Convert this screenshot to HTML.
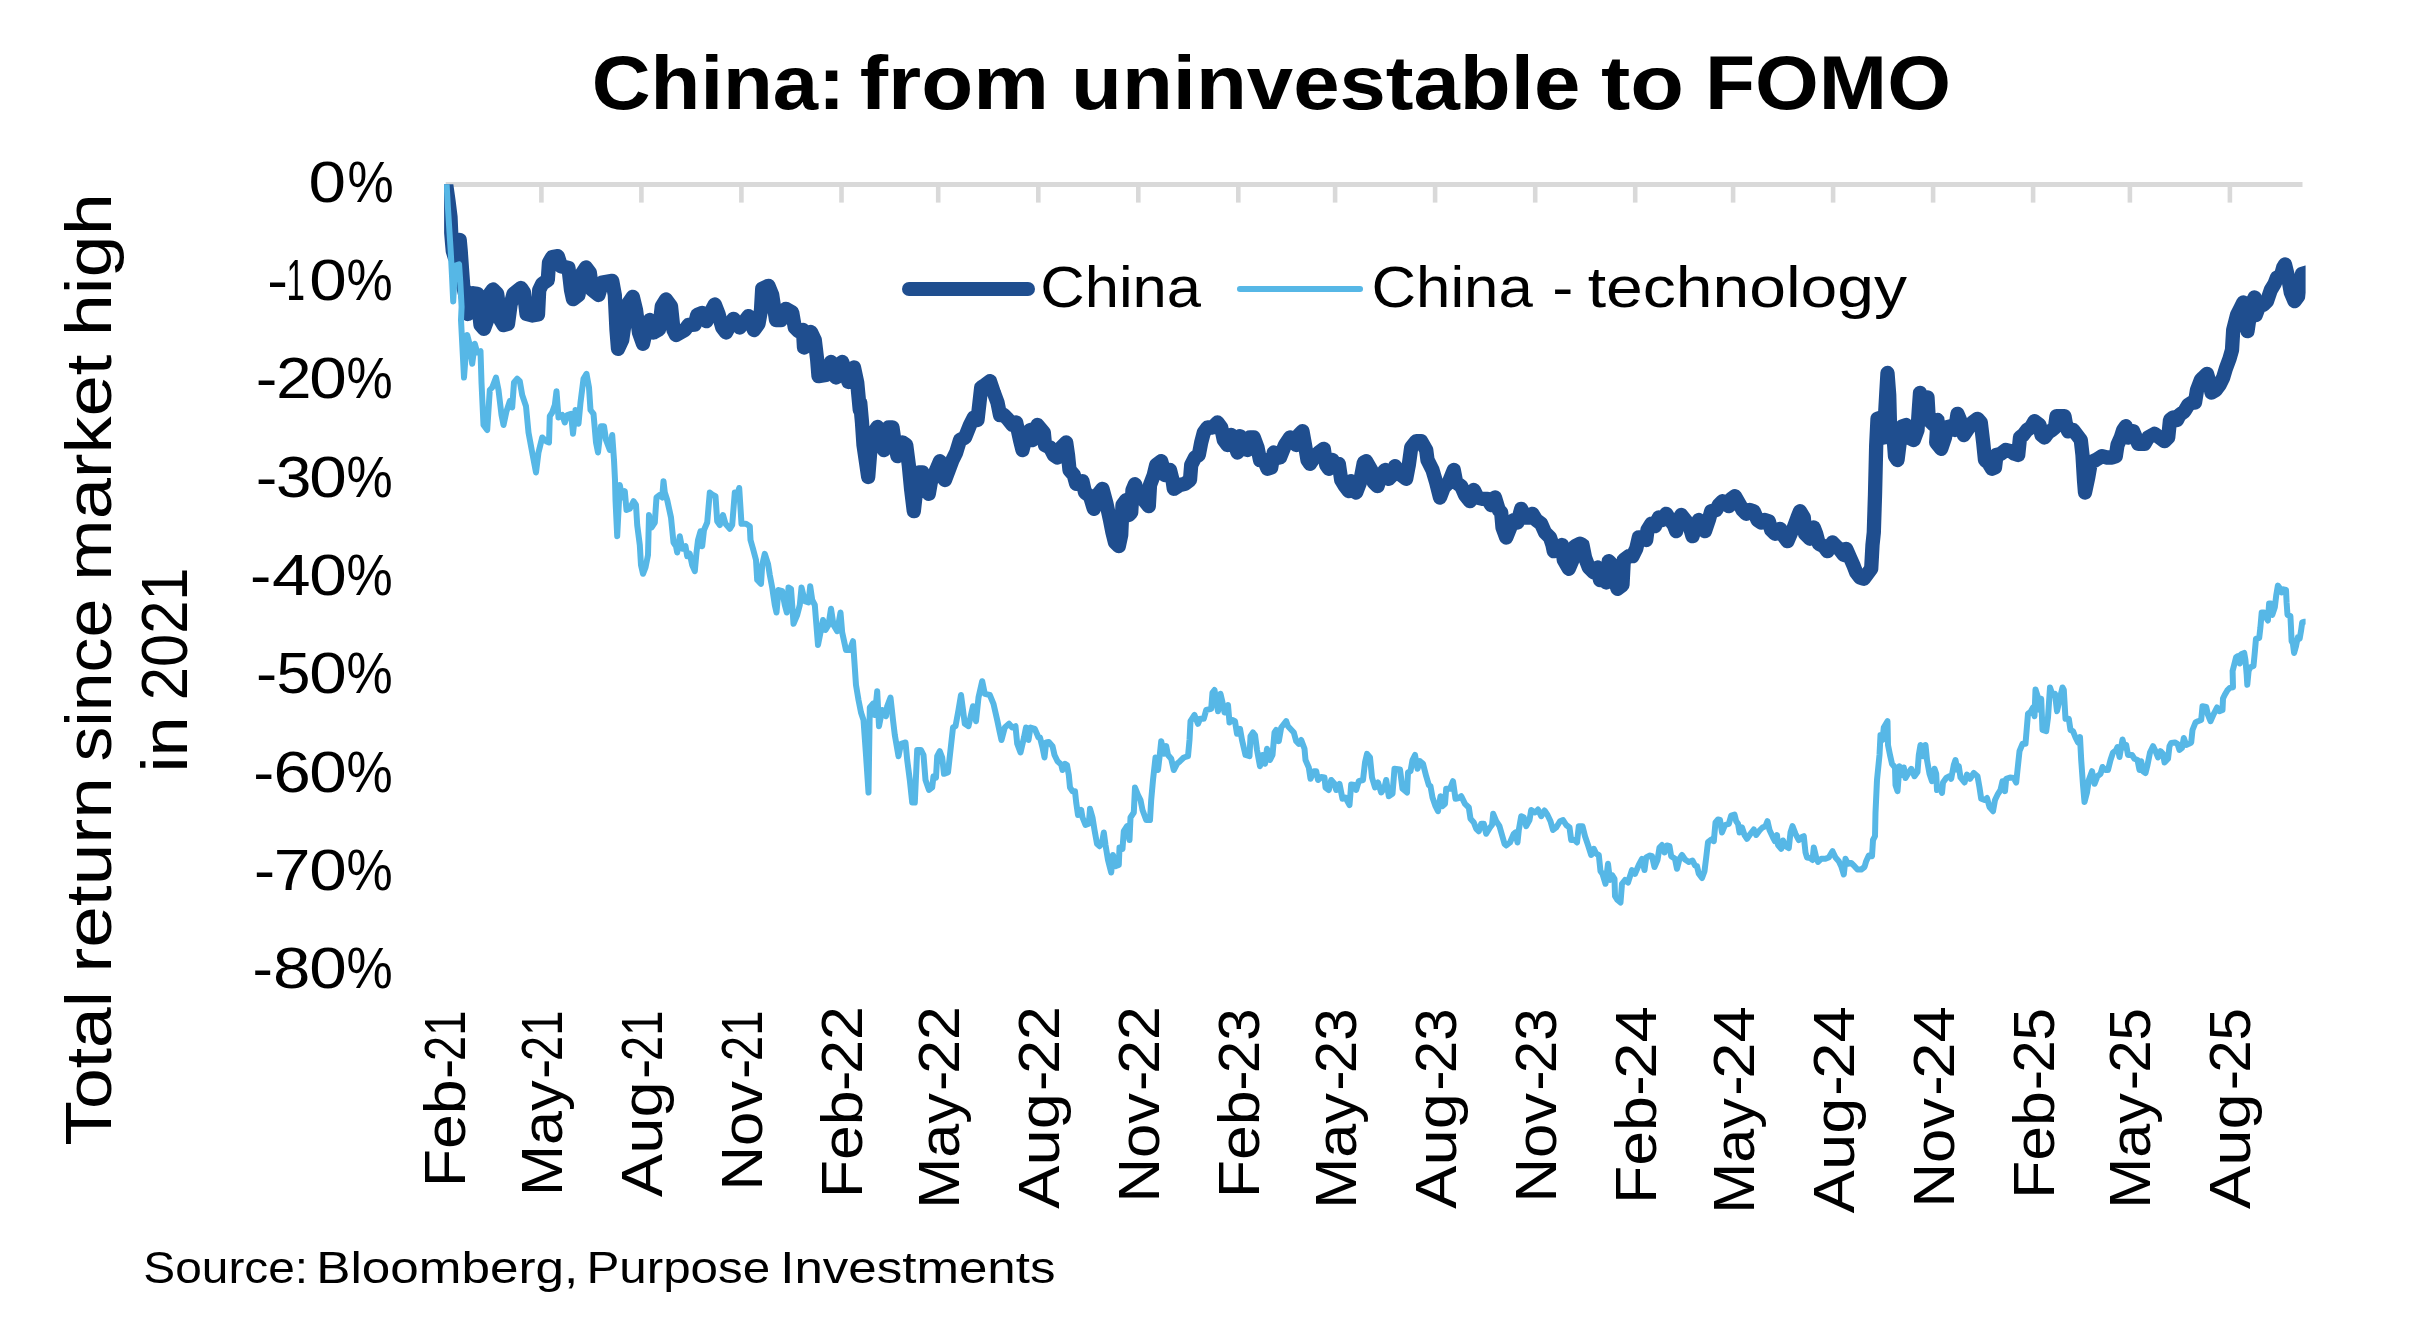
<!DOCTYPE html><html><head><meta charset="utf-8"><title>China: from uninvestable to FOMO</title>
<style>html,body{margin:0;padding:0;background:#fff}body{width:2436px;height:1318px;overflow:hidden}svg{display:block;will-change:transform}text{font-family:"Liberation Sans", sans-serif;fill:#000}</style></head><body>
<svg width="2436" height="1318" viewBox="0 0 2436 1318">
<rect width="2436" height="1318" fill="#fff"/>
<text transform="translate(591.74 108.80) scale(1.0655 1)" font-size="76.5" font-weight="bold">China:</text>
<text transform="translate(859.76 108.80) scale(1.1135 1)" font-size="76.5" font-weight="bold">from</text>
<text transform="translate(1071.04 108.80) scale(1.0889 1)" font-size="76.5" font-weight="bold">uninvestable</text>
<text transform="translate(1600.90 108.80) scale(1.1497 1)" font-size="76.5" font-weight="bold">to</text>
<text transform="translate(1704.96 108.80) scale(1.0720 1)" font-size="76.5" font-weight="bold">FOMO</text>
<g stroke="#D9D9D9" fill="none">
<line x1="445.7" y1="184.4" x2="2302.5" y2="184.4" stroke-width="5"/>
<line x1="541.4" y1="184.4" x2="541.4" y2="202.6" stroke-width="4.6"/>
<line x1="641.4" y1="184.4" x2="641.4" y2="202.6" stroke-width="4.6"/>
<line x1="741.4" y1="184.4" x2="741.4" y2="202.6" stroke-width="4.6"/>
<line x1="841.5" y1="184.4" x2="841.5" y2="202.6" stroke-width="4.6"/>
<line x1="938.2" y1="184.4" x2="938.2" y2="202.6" stroke-width="4.6"/>
<line x1="1038.3" y1="184.4" x2="1038.3" y2="202.6" stroke-width="4.6"/>
<line x1="1138.3" y1="184.4" x2="1138.3" y2="202.6" stroke-width="4.6"/>
<line x1="1238.3" y1="184.4" x2="1238.3" y2="202.6" stroke-width="4.6"/>
<line x1="1335.1" y1="184.4" x2="1335.1" y2="202.6" stroke-width="4.6"/>
<line x1="1435.1" y1="184.4" x2="1435.1" y2="202.6" stroke-width="4.6"/>
<line x1="1535.2" y1="184.4" x2="1535.2" y2="202.6" stroke-width="4.6"/>
<line x1="1635.2" y1="184.4" x2="1635.2" y2="202.6" stroke-width="4.6"/>
<line x1="1733.1" y1="184.4" x2="1733.1" y2="202.6" stroke-width="4.6"/>
<line x1="1833.1" y1="184.4" x2="1833.1" y2="202.6" stroke-width="4.6"/>
<line x1="1933.1" y1="184.4" x2="1933.1" y2="202.6" stroke-width="4.6"/>
<line x1="2033.1" y1="184.4" x2="2033.1" y2="202.6" stroke-width="4.6"/>
<line x1="2129.9" y1="184.4" x2="2129.9" y2="202.6" stroke-width="4.6"/>
<line x1="2229.9" y1="184.4" x2="2229.9" y2="202.6" stroke-width="4.6"/>
</g>
<text transform="translate(308.60 201.60) scale(1.1831 1)" font-size="57.0">0</text>
<text transform="translate(347.48 201.60) scale(0.9114 1)" font-size="57.0">%</text>
<text transform="translate(267.21 299.95) scale(1.0884 1)" font-size="57.0">-</text>
<text transform="translate(286.52 299.95) scale(0.5801 1)" font-size="57.0">1</text>
<text transform="translate(309.30 299.95) scale(1.1831 1)" font-size="57.0">0</text>
<text transform="translate(346.38 299.95) scale(0.9114 1)" font-size="57.0">%</text>
<text transform="translate(255.78 398.30) scale(1.1386 1)" font-size="57.0">-</text>
<text transform="translate(276.14 398.30) scale(1.1105 1)" font-size="57.0">2</text>
<text transform="translate(309.30 398.30) scale(1.1831 1)" font-size="57.0">0</text>
<text transform="translate(346.38 398.30) scale(0.9114 1)" font-size="57.0">%</text>
<text transform="translate(255.78 496.65) scale(1.1386 1)" font-size="57.0">-</text>
<text transform="translate(276.02 496.65) scale(1.1154 1)" font-size="57.0">3</text>
<text transform="translate(309.30 496.65) scale(1.1831 1)" font-size="57.0">0</text>
<text transform="translate(346.38 496.65) scale(0.9114 1)" font-size="57.0">%</text>
<text transform="translate(250.02 595.00) scale(1.1242 1)" font-size="57.0">-</text>
<text transform="translate(271.94 595.00) scale(1.2194 1)" font-size="57.0">4</text>
<text transform="translate(309.30 595.00) scale(1.1831 1)" font-size="57.0">0</text>
<text transform="translate(346.38 595.00) scale(0.9114 1)" font-size="57.0">%</text>
<text transform="translate(255.93 693.35) scale(1.1171 1)" font-size="57.0">-</text>
<text transform="translate(276.57 693.35) scale(1.0674 1)" font-size="57.0">5</text>
<text transform="translate(309.30 693.35) scale(1.1831 1)" font-size="57.0">0</text>
<text transform="translate(346.38 693.35) scale(0.9114 1)" font-size="57.0">%</text>
<text transform="translate(253.17 791.70) scale(1.1028 1)" font-size="57.0">-</text>
<text transform="translate(273.55 791.70) scale(1.1759 1)" font-size="57.0">6</text>
<text transform="translate(309.30 791.70) scale(1.1831 1)" font-size="57.0">0</text>
<text transform="translate(346.38 791.70) scale(0.9114 1)" font-size="57.0">%</text>
<text transform="translate(253.95 890.05) scale(1.1099 1)" font-size="57.0">-</text>
<text transform="translate(273.80 890.05) scale(1.1567 1)" font-size="57.0">7</text>
<text transform="translate(309.30 890.05) scale(1.1831 1)" font-size="57.0">0</text>
<text transform="translate(346.38 890.05) scale(0.9114 1)" font-size="57.0">%</text>
<text transform="translate(252.44 988.40) scale(1.0741 1)" font-size="57.0">-</text>
<text transform="translate(272.94 988.40) scale(1.1795 1)" font-size="57.0">8</text>
<text transform="translate(309.30 988.40) scale(1.1831 1)" font-size="57.0">0</text>
<text transform="translate(346.38 988.40) scale(0.9114 1)" font-size="57.0">%</text>
<text transform="translate(465.10 1187.16) rotate(-90) scale(1.0976 1)" font-size="57.0">Feb</text>
<text transform="translate(465.10 1060.96) rotate(-90) scale(0.7919 1)" font-size="57.0">21</text>
<text transform="translate(465.10 1079.06) rotate(-90) scale(1.0741 1)" font-size="57.0">-</text>
<text transform="translate(561.87 1196.05) rotate(-90) scale(1.0740 1)" font-size="57.0">May</text>
<text transform="translate(561.87 1060.96) rotate(-90) scale(0.7919 1)" font-size="57.0">21</text>
<text transform="translate(561.87 1079.06) rotate(-90) scale(1.0741 1)" font-size="57.0">-</text>
<text transform="translate(661.90 1197.16) rotate(-90) scale(1.1433 1)" font-size="57.0">Aug</text>
<text transform="translate(661.90 1060.96) rotate(-90) scale(0.7919 1)" font-size="57.0">21</text>
<text transform="translate(661.90 1079.06) rotate(-90) scale(1.0741 1)" font-size="57.0">-</text>
<text transform="translate(761.93 1190.58) rotate(-90) scale(1.0811 1)" font-size="57.0">Nov</text>
<text transform="translate(761.93 1060.96) rotate(-90) scale(0.7919 1)" font-size="57.0">21</text>
<text transform="translate(761.93 1079.06) rotate(-90) scale(1.0741 1)" font-size="57.0">-</text>
<text transform="translate(861.96 1198.16) rotate(-90) scale(1.0976 1)" font-size="57.0">Feb</text>
<text transform="translate(861.96 1073.73) rotate(-90) scale(1.0631 1)" font-size="57.0">22</text>
<text transform="translate(861.96 1091.06) rotate(-90) scale(1.0741 1)" font-size="57.0">-</text>
<text transform="translate(958.73 1208.80) rotate(-90) scale(1.0740 1)" font-size="57.0">May</text>
<text transform="translate(958.73 1073.73) rotate(-90) scale(1.0631 1)" font-size="57.0">22</text>
<text transform="translate(958.73 1091.06) rotate(-90) scale(1.0741 1)" font-size="57.0">-</text>
<text transform="translate(1058.77 1208.91) rotate(-90) scale(1.1433 1)" font-size="57.0">Aug</text>
<text transform="translate(1058.77 1073.73) rotate(-90) scale(1.0631 1)" font-size="57.0">22</text>
<text transform="translate(1058.77 1091.06) rotate(-90) scale(1.0741 1)" font-size="57.0">-</text>
<text transform="translate(1158.80 1202.58) rotate(-90) scale(1.0811 1)" font-size="57.0">Nov</text>
<text transform="translate(1158.80 1073.73) rotate(-90) scale(1.0631 1)" font-size="57.0">22</text>
<text transform="translate(1158.80 1091.06) rotate(-90) scale(1.0741 1)" font-size="57.0">-</text>
<text transform="translate(1258.83 1198.16) rotate(-90) scale(1.0976 1)" font-size="57.0">Feb</text>
<text transform="translate(1258.83 1073.21) rotate(-90) scale(1.0225 1)" font-size="57.0">23</text>
<text transform="translate(1258.83 1090.66) rotate(-90) scale(1.0741 1)" font-size="57.0">-</text>
<text transform="translate(1355.60 1208.80) rotate(-90) scale(1.0740 1)" font-size="57.0">May</text>
<text transform="translate(1355.60 1073.21) rotate(-90) scale(1.0225 1)" font-size="57.0">23</text>
<text transform="translate(1355.60 1090.66) rotate(-90) scale(1.0741 1)" font-size="57.0">-</text>
<text transform="translate(1455.63 1208.91) rotate(-90) scale(1.1433 1)" font-size="57.0">Aug</text>
<text transform="translate(1455.63 1073.21) rotate(-90) scale(1.0225 1)" font-size="57.0">23</text>
<text transform="translate(1455.63 1090.66) rotate(-90) scale(1.0741 1)" font-size="57.0">-</text>
<text transform="translate(1555.66 1202.58) rotate(-90) scale(1.0811 1)" font-size="57.0">Nov</text>
<text transform="translate(1555.66 1073.21) rotate(-90) scale(1.0225 1)" font-size="57.0">23</text>
<text transform="translate(1555.66 1090.66) rotate(-90) scale(1.0741 1)" font-size="57.0">-</text>
<text transform="translate(1655.69 1203.91) rotate(-90) scale(1.0976 1)" font-size="57.0">Feb</text>
<text transform="translate(1655.69 1078.77) rotate(-90) scale(1.1469 1)" font-size="57.0">24</text>
<text transform="translate(1655.69 1095.86) rotate(-90) scale(1.0741 1)" font-size="57.0">-</text>
<text transform="translate(1753.55 1213.80) rotate(-90) scale(1.0740 1)" font-size="57.0">May</text>
<text transform="translate(1753.55 1078.77) rotate(-90) scale(1.1469 1)" font-size="57.0">24</text>
<text transform="translate(1753.55 1095.86) rotate(-90) scale(1.0741 1)" font-size="57.0">-</text>
<text transform="translate(1853.58 1213.41) rotate(-90) scale(1.1433 1)" font-size="57.0">Aug</text>
<text transform="translate(1853.58 1078.77) rotate(-90) scale(1.1469 1)" font-size="57.0">24</text>
<text transform="translate(1853.58 1095.86) rotate(-90) scale(1.0741 1)" font-size="57.0">-</text>
<text transform="translate(1953.61 1207.58) rotate(-90) scale(1.0811 1)" font-size="57.0">Nov</text>
<text transform="translate(1953.61 1078.77) rotate(-90) scale(1.1469 1)" font-size="57.0">24</text>
<text transform="translate(1953.61 1095.86) rotate(-90) scale(1.0741 1)" font-size="57.0">-</text>
<text transform="translate(2053.65 1198.91) rotate(-90) scale(1.0976 1)" font-size="57.0">Feb</text>
<text transform="translate(2053.65 1072.71) rotate(-90) scale(1.0200 1)" font-size="57.0">25</text>
<text transform="translate(2053.65 1090.16) rotate(-90) scale(1.0741 1)" font-size="57.0">-</text>
<text transform="translate(2150.41 1208.80) rotate(-90) scale(1.0740 1)" font-size="57.0">May</text>
<text transform="translate(2150.41 1072.71) rotate(-90) scale(1.0200 1)" font-size="57.0">25</text>
<text transform="translate(2150.41 1090.16) rotate(-90) scale(1.0741 1)" font-size="57.0">-</text>
<text transform="translate(2250.45 1209.16) rotate(-90) scale(1.1433 1)" font-size="57.0">Aug</text>
<text transform="translate(2250.45 1072.71) rotate(-90) scale(1.0200 1)" font-size="57.0">25</text>
<text transform="translate(2250.45 1090.16) rotate(-90) scale(1.0741 1)" font-size="57.0">-</text>
<text transform="translate(111.20 1145.65) rotate(-90) scale(1.1381 1)" font-size="64.3">Total</text>
<text transform="translate(111.20 972.66) rotate(-90) scale(1.1634 1)" font-size="64.3">return</text>
<text transform="translate(111.20 761.52) rotate(-90) scale(1.0847 1)" font-size="64.3">since</text>
<text transform="translate(111.20 581.10) rotate(-90) scale(1.1528 1)" font-size="64.3">market</text>
<text transform="translate(111.20 336.30) rotate(-90) scale(1.1769 1)" font-size="64.3">high</text>
<text transform="translate(187.30 772.47) rotate(-90) scale(1.1217 1)" font-size="64.3">in</text>
<text transform="translate(187.30 700.18) rotate(-90) scale(0.9280 1)" font-size="64.3">2021</text>
<text transform="translate(143.35 1282.70) scale(1.0577 1)" font-size="45.2">Source:</text>
<text transform="translate(316.27 1282.70) scale(1.1342 1)" font-size="45.2">Bloomberg,</text>
<text transform="translate(586.43 1282.70) scale(1.0916 1)" font-size="45.2">Purpose</text>
<text transform="translate(780.28 1282.70) scale(1.1293 1)" font-size="45.2">Investments</text>
<defs><clipPath id="pc"><rect x="444.1" y="184.2" width="1861.5" height="820"/></clipPath></defs>
<g clip-path="url(#pc)" fill="none" stroke-linejoin="round" stroke-linecap="round">
<path d="M446.1 184.1 L448.5 201.0 L450.5 217.2 L451.2 233.4 L452.8 250.9 L454.7 257.1 L458.2 244.0 L459.7 239.9 L460.7 250.9 L462.0 269.6 L463.2 285.8 L466.6 300.8 L467.8 314.0 L470.3 300.8 L473.4 293.3 L477.2 293.8 L480.5 325.0 L484.0 328.8 L487.2 320.0 L489.0 295.0 L493.0 289.5 L497.2 293.8 L500.5 320.0 L503.5 325.0 L508.0 323.8 L510.5 305.0 L513.5 293.8 L521.0 288.0 L524.0 292.5 L526.5 313.8 L532.2 315.5 L538.0 314.5 L539.2 290.0 L542.2 283.8 L547.8 280.0 L549.0 262.5 L552.2 257.0 L557.8 256.2 L561.0 266.2 L568.5 268.0 L571.0 290.0 L573.0 299.2 L578.5 295.0 L581.0 275.0 L586.0 267.5 L589.8 272.5 L592.2 290.0 L598.5 295.0 L602.2 282.5 L612.2 280.8 L614.8 295.0 L616.5 330.0 L618.0 348.8 L622.2 340.0 L627.2 305.0 L632.8 296.8 L636.0 310.0 L639.0 332.5 L643.0 343.8 L647.2 325.0 L649.8 320.0 L653.5 332.5 L659.2 329.2 L661.8 306.2 L666.0 299.5 L671.0 306.2 L673.5 330.0 L676.0 335.0 L684.8 330.0 L688.5 325.0 L694.8 324.5 L697.2 315.0 L702.2 313.0 L706.5 321.2 L709.8 313.8 L714.8 304.5 L718.5 313.8 L722.2 327.5 L726.0 332.5 L733.5 318.8 L739.8 327.5 L748.5 316.2 L754.0 330.0 L758.5 323.8 L761.0 310.0 L762.2 288.8 L768.5 285.8 L772.2 295.0 L776.0 320.0 L781.0 320.0 L786.0 308.8 L792.2 312.5 L794.8 327.5 L798.5 331.2 L803.0 330.0 L804.0 347.5 L807.2 345.0 L811.0 332.0 L814.8 340.0 L817.2 360.0 L818.5 376.2 L826.0 375.0 L831.0 362.0 L836.0 377.5 L842.2 362.0 L848.5 382.0 L854.0 367.5 L857.2 382.5 L859.8 410.0 L860.2 402.5 L862.0 422.5 L863.5 445.0 L868.2 477.0 L871.2 440.0 L873.8 432.5 L877.5 427.0 L881.2 440.0 L883.8 450.0 L886.2 440.0 L888.8 427.5 L892.5 427.5 L895.0 445.0 L897.5 456.2 L900.0 450.0 L902.5 442.5 L906.2 445.0 L908.8 465.0 L911.2 490.0 L913.8 511.2 L916.2 490.0 L918.8 472.5 L922.5 472.5 L926.2 480.0 L928.8 493.8 L931.2 480.0 L933.8 477.5 L936.2 470.0 L940.0 461.2 L943.8 472.5 L945.0 480.0 L948.8 470.0 L952.5 460.0 L956.2 452.5 L960.0 440.0 L965.0 437.5 L970.0 425.0 L973.8 417.5 L977.5 420.0 L979.5 402.5 L981.2 387.5 L985.0 385.0 L990.0 381.2 L993.8 392.5 L997.5 402.5 L1000.0 415.0 L1003.8 415.0 L1007.5 418.8 L1012.5 425.0 L1016.2 422.5 L1020.0 440.0 L1022.5 450.0 L1026.2 435.0 L1030.0 430.0 L1032.5 440.0 L1037.5 425.0 L1043.8 432.5 L1045.0 445.0 L1050.0 447.5 L1053.8 455.0 L1057.5 457.5 L1061.2 447.5 L1066.2 442.5 L1068.0 455.0 L1069.5 470.0 L1073.8 475.0 L1076.2 483.8 L1082.5 481.2 L1085.0 492.5 L1090.0 496.2 L1093.8 508.8 L1097.5 495.0 L1102.5 488.8 L1106.2 502.5 L1110.0 520.0 L1112.5 532.5 L1115.0 542.5 L1118.8 546.2 L1121.2 535.0 L1122.5 505.0 L1126.2 500.0 L1128.8 515.0 L1131.2 512.5 L1132.5 490.0 L1135.0 484.2 L1138.8 495.0 L1143.8 500.0 L1148.8 506.2 L1150.0 485.0 L1153.8 475.0 L1156.2 465.0 L1161.2 461.2 L1165.0 475.0 L1170.0 470.0 L1172.5 480.0 L1173.8 488.8 L1180.0 485.0 L1185.0 483.8 L1190.0 480.0 L1191.2 465.0 L1195.0 457.5 L1198.8 455.0 L1201.2 442.5 L1203.8 432.5 L1207.5 427.5 L1212.5 427.5 L1217.5 422.5 L1221.2 427.5 L1223.8 440.0 L1227.5 445.0 L1231.2 435.0 L1235.0 445.0 L1237.5 452.5 L1240.0 436.2 L1243.8 445.0 L1247.5 450.0 L1250.0 437.5 L1253.8 437.5 L1257.5 447.5 L1260.0 460.0 L1263.8 460.0 L1267.5 468.8 L1271.2 467.5 L1273.8 452.5 L1280.0 457.5 L1285.0 445.0 L1290.0 437.5 L1296.2 445.0 L1298.8 435.0 L1302.5 431.2 L1305.0 445.0 L1307.5 460.0 L1310.0 463.8 L1315.0 456.2 L1318.8 452.5 L1323.8 448.8 L1326.2 465.0 L1328.8 468.8 L1332.5 460.0 L1335.0 465.0 L1338.8 463.8 L1341.2 480.0 L1345.0 486.2 L1348.8 491.2 L1351.2 481.2 L1356.2 492.5 L1360.0 482.5 L1363.8 462.5 L1366.2 461.2 L1371.2 470.0 L1373.8 482.5 L1377.5 486.2 L1381.2 475.0 L1385.0 470.0 L1388.8 478.8 L1392.5 475.0 L1395.0 466.2 L1401.2 475.0 L1406.2 478.8 L1408.8 465.0 L1411.2 447.5 L1416.2 441.2 L1421.2 441.2 L1426.2 450.0 L1427.5 460.0 L1432.5 470.0 L1436.2 482.5 L1440.0 497.5 L1443.8 487.5 L1448.8 482.5 L1453.8 470.0 L1456.2 482.5 L1461.2 486.2 L1465.0 495.0 L1470.0 501.2 L1473.8 490.0 L1477.5 497.5 L1482.5 498.8 L1487.5 498.8 L1491.2 505.0 L1495.0 497.5 L1498.8 510.0 L1501.2 512.5 L1502.5 527.5 L1506.2 537.5 L1511.2 525.0 L1513.8 520.0 L1517.5 522.5 L1521.2 508.8 L1525.0 517.5 L1530.0 517.5 L1532.5 513.8 L1536.2 520.0 L1541.2 523.8 L1545.0 532.5 L1550.0 537.5 L1552.5 545.0 L1553.8 551.2 L1558.8 547.5 L1562.0 545.0 L1563.8 560.0 L1568.8 568.8 L1572.5 560.0 L1575.0 546.2 L1580.0 543.8 L1582.5 545.0 L1585.0 557.5 L1588.8 567.5 L1593.8 572.5 L1597.5 567.5 L1600.0 580.0 L1603.8 575.0 L1606.2 582.5 L1608.8 561.2 L1612.5 565.0 L1615.0 580.0 L1617.5 588.8 L1622.5 585.0 L1623.8 560.0 L1628.8 556.2 L1632.5 556.2 L1636.2 548.8 L1638.8 537.5 L1643.8 537.5 L1646.2 540.0 L1647.5 530.0 L1651.2 523.8 L1655.0 526.2 L1658.8 517.5 L1662.5 520.0 L1666.2 513.8 L1670.0 520.0 L1673.8 525.0 L1676.2 531.2 L1678.8 520.0 L1681.2 515.0 L1686.2 521.2 L1690.0 527.5 L1692.5 536.2 L1696.2 525.0 L1698.8 520.0 L1702.5 527.5 L1705.0 531.2 L1708.8 520.0 L1711.2 511.2 L1716.2 510.0 L1718.8 505.0 L1722.5 501.2 L1728.8 506.2 L1731.2 498.8 L1735.0 496.2 L1740.0 505.0 L1742.5 510.0 L1746.2 513.8 L1750.0 510.0 L1753.8 511.2 L1757.5 520.0 L1761.2 522.5 L1765.0 520.0 L1768.8 521.2 L1771.2 530.0 L1775.0 533.8 L1780.0 528.8 L1783.8 536.2 L1787.5 541.2 L1791.2 532.5 L1793.8 527.5 L1797.5 517.5 L1800.0 511.2 L1803.8 517.5 L1805.0 533.8 L1810.0 538.8 L1813.8 527.5 L1816.2 533.8 L1818.8 543.8 L1823.8 546.2 L1827.5 551.2 L1832.5 542.5 L1836.2 546.2 L1840.0 550.0 L1843.8 555.0 L1846.2 548.8 L1850.0 557.5 L1853.8 566.2 L1856.2 572.5 L1860.0 577.5 L1863.8 578.8 L1867.5 573.8 L1871.2 568.8 L1872.5 545.0 L1873.8 532.5 L1875.0 495.0 L1876.2 445.0 L1877.5 418.8 L1881.2 417.5 L1883.8 437.5 L1886.2 395.0 L1887.5 373.0 L1889.2 395.0 L1890.0 425.0 L1893.8 440.0 L1895.0 456.2 L1897.5 460.0 L1900.0 440.0 L1902.5 426.2 L1906.2 425.0 L1908.8 437.5 L1913.8 440.0 L1917.5 430.0 L1918.8 410.0 L1920.0 393.0 L1923.8 405.0 L1927.5 397.5 L1928.8 420.0 L1933.8 425.0 L1937.5 420.0 L1936.2 442.5 L1941.2 448.8 L1945.0 437.5 L1946.2 427.5 L1951.2 426.2 L1955.0 430.0 L1957.5 413.8 L1960.0 420.0 L1963.8 435.0 L1968.8 427.5 L1972.5 422.5 L1977.5 418.8 L1980.8 422.5 L1983.2 442.5 L1985.0 460.0 L1988.2 462.5 L1992.0 468.8 L1995.0 467.5 L1996.5 455.0 L2000.8 453.8 L2005.8 450.0 L2010.8 451.2 L2014.5 453.8 L2018.2 455.0 L2020.0 437.5 L2023.2 435.0 L2027.0 430.0 L2030.8 427.5 L2034.5 421.2 L2039.5 425.0 L2041.5 435.0 L2044.5 437.5 L2048.2 432.5 L2052.0 430.0 L2055.0 427.5 L2056.5 416.2 L2060.8 416.2 L2064.5 416.2 L2066.5 427.5 L2068.2 431.2 L2073.2 430.0 L2077.0 435.0 L2080.8 440.0 L2082.5 455.0 L2084.0 480.0 L2085.0 492.5 L2088.2 477.5 L2090.8 462.5 L2095.8 460.0 L2102.0 456.2 L2107.0 457.5 L2112.0 457.5 L2115.8 456.2 L2117.5 445.0 L2120.8 437.5 L2123.2 430.0 L2125.8 426.2 L2128.2 437.5 L2133.2 431.2 L2135.8 437.5 L2138.2 443.8 L2144.5 443.8 L2148.2 437.5 L2154.5 433.8 L2159.5 437.5 L2164.5 441.2 L2168.2 437.5 L2170.0 420.0 L2173.2 417.5 L2177.0 420.0 L2179.5 415.0 L2184.5 411.2 L2188.2 405.0 L2192.0 402.5 L2195.0 402.5 L2197.0 390.0 L2200.8 380.0 L2203.2 377.5 L2207.0 373.8 L2209.5 382.5 L2211.5 392.5 L2215.8 390.0 L2219.5 385.0 L2223.2 377.5 L2225.8 368.8 L2229.5 358.8 L2232.0 350.0 L2233.2 330.0 L2237.0 315.0 L2240.8 307.5 L2243.2 302.5 L2245.0 315.0 L2247.5 331.2 L2249.5 317.5 L2252.0 305.0 L2254.5 297.5 L2255.8 315.0 L2259.5 305.0 L2263.2 305.0 L2267.0 301.2 L2270.8 290.0 L2274.5 283.8 L2277.0 277.5 L2280.8 276.2 L2283.2 267.5 L2285.0 264.5 L2288.2 277.5 L2290.8 292.5 L2294.5 301.2 L2298.2 296.2 L2300.8 280.0 L2302.0 273.8 L2307.0 272.5" stroke="#1F4E8F" stroke-width="14.3"/>
<path d="M446.6 184.1 L447.9 207.2 L449.5 232.2 L450.7 250.9 L452.0 275.8 L453.2 301.4 L454.2 282.1 L455.0 265.9 L459.1 264.4 L460.3 282.1 L461.6 307.0 L461.0 320.0 L464.0 377.5 L467.2 335.0 L469.8 345.0 L472.2 363.8 L474.8 343.8 L477.2 352.5 L480.5 351.2 L481.5 382.5 L483.5 425.0 L487.2 430.0 L489.8 390.0 L492.2 387.5 L496.0 377.5 L498.5 390.0 L501.5 415.0 L503.5 425.0 L506.5 411.2 L509.8 401.2 L512.2 407.5 L514.0 382.5 L517.2 378.8 L519.8 381.2 L522.2 395.0 L526.0 406.2 L528.5 432.5 L532.2 452.5 L536.0 472.5 L538.5 452.5 L542.2 437.5 L546.0 441.2 L549.0 442.5 L549.8 416.2 L552.2 412.5 L554.8 405.0 L556.5 391.2 L558.5 417.5 L562.2 415.0 L564.8 422.5 L567.2 415.0 L571.0 413.8 L573.0 433.8 L575.5 410.0 L578.5 423.8 L580.5 402.5 L583.5 378.8 L586.5 373.8 L589.0 387.5 L590.5 410.0 L593.5 413.8 L596.0 442.5 L598.0 452.5 L601.0 426.2 L604.0 426.2 L606.0 440.0 L609.8 450.0 L612.2 435.0 L614.0 460.0 L615.0 480.0 L615.5 500.0 L617.2 536.2 L619.8 485.0 L622.2 497.5 L624.8 491.2 L626.5 510.0 L629.8 508.8 L633.5 501.2 L636.0 505.0 L637.2 525.0 L639.8 545.0 L641.0 565.0 L643.0 573.8 L645.5 567.5 L648.0 555.0 L649.0 515.0 L651.5 527.5 L654.8 522.5 L656.5 497.5 L659.8 495.0 L662.2 497.5 L663.5 481.2 L664.8 492.5 L667.2 500.0 L671.0 517.5 L673.5 542.5 L676.0 546.2 L677.2 552.5 L679.8 536.2 L682.2 548.8 L685.5 546.2 L687.2 556.2 L689.8 553.8 L692.2 565.0 L694.8 571.2 L696.5 552.5 L698.0 540.0 L700.5 531.2 L702.2 546.2 L704.0 530.0 L707.2 522.5 L709.8 492.5 L713.0 495.0 L715.5 496.2 L717.2 521.2 L719.8 525.0 L723.0 515.0 L725.5 523.8 L729.8 528.8 L732.2 525.0 L734.8 492.5 L737.2 495.0 L739.2 488.0 L741.5 523.8 L746.0 523.8 L749.8 526.2 L750.5 540.0 L753.0 548.8 L756.0 560.0 L757.2 580.0 L761.0 583.8 L762.2 565.0 L764.8 553.8 L768.0 563.8 L769.8 575.0 L772.2 587.5 L774.8 605.0 L776.5 612.5 L778.5 590.0 L782.2 591.2 L784.8 605.0 L786.8 612.5 L788.5 587.5 L791.0 588.8 L792.2 605.0 L793.5 623.8 L797.2 615.0 L799.8 605.0 L801.5 587.5 L804.8 601.2 L808.5 602.5 L810.2 586.2 L812.2 600.0 L814.8 605.0 L816.0 620.0 L818.0 645.0 L821.0 630.0 L823.0 620.0 L825.5 630.0 L828.5 625.0 L831.0 608.8 L833.5 625.0 L837.2 631.2 L840.5 612.5 L842.2 632.5 L846.0 650.0 L849.8 650.0 L853.0 641.2 L854.8 667.5 L856.0 685.0 L858.5 700.0 L861.0 712.5 L863.5 720.0 L866.0 755.0 L868.5 792.5 L869.8 707.5 L873.0 703.8 L874.8 715.0 L877.2 691.2 L879.0 726.2 L882.2 710.0 L886.0 716.2 L887.2 706.2 L890.5 697.5 L893.0 720.0 L894.8 735.0 L898.5 756.2 L901.0 743.8 L905.5 742.5 L907.2 760.0 L909.8 780.0 L912.2 802.5 L914.8 802.5 L917.2 750.0 L921.0 750.0 L923.5 755.0 L925.5 780.0 L929.0 790.0 L932.2 787.5 L933.5 776.2 L936.0 777.5 L937.2 756.2 L939.8 751.2 L942.2 757.5 L944.0 773.8 L948.0 772.5 L950.5 750.0 L953.0 727.5 L955.5 726.2 L958.5 710.0 L961.0 695.0 L963.0 710.0 L964.8 723.8 L968.5 726.2 L971.0 715.0 L973.0 706.2 L976.0 721.2 L978.5 697.5 L982.2 681.2 L984.8 693.8 L989.8 695.0 L993.5 703.8 L997.2 720.0 L999.8 732.5 L1001.5 740.0 L1004.8 727.5 L1009.0 723.8 L1012.2 727.5 L1015.5 726.2 L1017.2 743.8 L1020.5 752.5 L1024.0 737.5 L1026.0 727.5 L1028.5 740.0 L1030.5 727.5 L1034.8 728.8 L1038.5 737.5 L1040.0 737.5 L1042.5 747.5 L1044.5 757.5 L1046.2 742.5 L1048.8 742.0 L1052.5 746.2 L1054.5 755.0 L1057.5 761.2 L1061.2 764.5 L1062.5 770.0 L1065.0 763.8 L1067.0 765.0 L1068.8 775.0 L1070.0 787.5 L1072.5 791.2 L1075.0 791.2 L1076.2 802.5 L1078.0 815.0 L1081.2 810.0 L1082.5 817.5 L1085.5 825.0 L1088.8 823.8 L1090.0 808.8 L1092.5 817.5 L1094.5 830.0 L1097.0 843.8 L1099.5 846.2 L1102.0 842.5 L1103.8 832.5 L1105.5 845.0 L1108.0 860.0 L1111.2 872.5 L1113.0 855.0 L1115.5 866.2 L1118.8 865.0 L1119.5 847.5 L1122.5 848.8 L1123.8 831.2 L1127.0 826.2 L1129.5 840.0 L1130.5 817.5 L1133.8 812.5 L1135.0 787.5 L1138.0 795.0 L1140.5 800.0 L1142.5 810.0 L1146.2 820.0 L1150.0 820.0 L1151.2 800.0 L1153.0 780.0 L1155.5 757.5 L1158.0 770.0 L1159.5 757.5 L1161.2 741.2 L1163.8 753.8 L1166.2 746.2 L1168.0 755.0 L1171.2 758.8 L1173.8 770.0 L1177.0 763.8 L1180.0 761.2 L1183.8 757.5 L1188.0 756.2 L1189.5 740.0 L1190.5 721.2 L1194.5 715.0 L1198.0 723.8 L1200.0 718.8 L1203.8 718.8 L1206.2 710.0 L1211.2 708.8 L1212.5 692.5 L1214.5 690.0 L1218.0 711.2 L1220.5 693.8 L1222.5 702.5 L1224.5 712.5 L1228.0 705.0 L1229.5 722.5 L1232.5 720.0 L1235.0 721.2 L1237.0 733.8 L1240.0 728.8 L1242.0 740.0 L1245.5 755.0 L1249.5 756.2 L1250.5 736.2 L1253.0 732.5 L1255.0 735.0 L1257.0 750.0 L1260.0 766.2 L1262.5 755.0 L1265.0 763.8 L1267.0 748.8 L1270.0 760.0 L1272.5 755.0 L1274.5 732.5 L1276.2 730.0 L1278.8 741.2 L1281.2 727.5 L1286.2 721.2 L1288.0 726.2 L1293.8 732.5 L1296.2 741.2 L1298.8 743.8 L1301.2 740.0 L1304.5 748.8 L1305.5 760.0 L1308.8 767.5 L1310.5 778.8 L1313.8 771.2 L1316.2 771.2 L1318.0 780.0 L1321.2 777.0 L1324.5 777.5 L1325.5 787.5 L1328.8 790.0 L1331.2 780.0 L1334.5 783.8 L1336.2 790.0 L1339.5 783.8 L1342.5 798.8 L1345.5 797.5 L1349.5 805.0 L1351.2 784.5 L1354.5 785.0 L1356.2 790.0 L1358.8 781.2 L1363.0 780.0 L1365.0 762.5 L1367.0 753.8 L1370.0 757.5 L1372.0 777.5 L1375.0 787.5 L1378.0 782.5 L1381.2 792.5 L1384.5 787.5 L1386.2 780.0 L1388.8 796.2 L1392.5 793.8 L1394.5 768.8 L1400.0 769.5 L1402.5 788.8 L1407.0 792.5 L1408.0 772.5 L1410.5 771.2 L1412.5 760.0 L1415.0 755.0 L1417.5 768.8 L1420.0 761.2 L1423.0 763.8 L1426.2 776.2 L1428.8 785.0 L1430.5 786.2 L1432.5 797.5 L1435.5 806.2 L1438.0 811.2 L1440.5 796.2 L1442.5 806.2 L1445.0 803.8 L1446.2 788.8 L1450.0 788.8 L1453.0 781.2 L1455.5 798.8 L1458.8 798.0 L1461.2 796.2 L1465.0 803.8 L1468.8 807.5 L1470.5 818.8 L1473.8 822.5 L1476.2 828.8 L1478.8 831.2 L1481.2 823.8 L1483.8 823.8 L1486.2 833.8 L1490.0 827.5 L1492.0 825.0 L1493.2 813.8 L1496.2 821.2 L1499.5 826.2 L1502.0 835.0 L1504.5 843.8 L1506.2 845.5 L1510.0 842.5 L1513.8 833.8 L1515.5 832.5 L1517.5 842.5 L1518.8 830.0 L1521.2 816.2 L1523.8 817.5 L1526.2 826.2 L1529.5 820.0 L1531.2 810.0 L1535.0 812.5 L1538.0 809.5 L1541.2 816.2 L1544.5 810.5 L1547.5 815.0 L1550.5 821.2 L1553.0 830.0 L1556.2 827.5 L1560.0 821.2 L1563.0 820.0 L1566.2 825.0 L1569.5 827.5 L1571.2 840.0 L1574.5 840.0 L1577.0 842.5 L1578.8 826.2 L1582.5 826.2 L1585.0 836.2 L1588.0 845.0 L1591.2 855.0 L1593.8 848.8 L1596.2 853.8 L1598.8 855.0 L1600.5 871.2 L1602.5 873.8 L1605.5 883.8 L1608.0 863.8 L1610.0 880.0 L1612.0 875.0 L1614.5 878.8 L1615.0 896.2 L1617.5 900.0 L1620.5 902.5 L1622.0 883.8 L1625.0 880.0 L1628.0 882.5 L1632.0 870.0 L1635.0 873.8 L1638.8 865.0 L1642.0 858.8 L1644.5 870.0 L1646.2 857.5 L1650.0 855.5 L1652.0 856.2 L1654.5 867.0 L1657.5 860.0 L1659.5 847.5 L1662.0 845.0 L1664.5 852.5 L1667.0 845.5 L1669.5 846.2 L1671.2 856.2 L1675.0 858.8 L1677.0 868.8 L1679.5 858.8 L1682.0 855.0 L1685.0 859.5 L1688.8 862.0 L1692.5 860.5 L1695.0 865.5 L1697.0 866.2 L1698.8 873.8 L1702.0 878.0 L1704.5 871.2 L1706.2 857.5 L1708.0 842.0 L1711.2 839.5 L1713.8 841.2 L1715.5 822.5 L1718.0 819.5 L1720.0 820.0 L1722.0 832.5 L1725.0 825.0 L1728.8 823.8 L1731.2 815.5 L1734.5 814.5 L1736.2 821.2 L1738.0 823.8 L1739.5 832.5 L1742.0 827.5 L1744.5 835.0 L1747.0 838.8 L1750.5 833.8 L1753.8 829.5 L1756.2 835.0 L1759.5 830.5 L1762.5 827.5 L1765.5 826.2 L1767.5 821.2 L1769.5 830.0 L1773.0 837.5 L1775.0 841.2 L1777.0 835.0 L1778.0 845.0 L1781.2 848.8 L1783.0 840.5 L1785.5 846.2 L1788.8 848.0 L1790.5 832.5 L1792.5 826.2 L1795.5 833.8 L1798.8 840.0 L1802.0 837.0 L1803.8 836.2 L1805.5 852.5 L1807.0 857.5 L1810.0 858.0 L1812.5 860.0 L1813.8 847.5 L1816.2 857.5 L1818.0 862.0 L1821.2 858.8 L1825.0 858.8 L1828.8 857.5 L1832.5 851.2 L1835.5 857.5 L1838.8 861.2 L1841.2 866.2 L1843.8 874.5 L1845.5 858.8 L1848.0 863.8 L1851.2 863.0 L1854.5 866.2 L1857.5 869.5 L1861.2 869.5 L1864.5 867.0 L1866.2 861.2 L1868.8 855.5 L1872.0 856.2 L1873.0 840.0 L1875.0 836.2 L1875.5 812.5 L1877.0 780.0 L1879.5 755.0 L1880.5 735.0 L1882.5 740.0 L1883.8 727.5 L1887.5 721.2 L1888.0 745.0 L1890.0 755.0 L1892.0 763.8 L1895.0 767.5 L1895.5 785.0 L1897.5 791.2 L1899.5 766.2 L1902.0 775.0 L1903.8 767.5 L1905.5 778.0 L1908.8 772.5 L1911.2 768.8 L1914.5 776.2 L1917.5 772.0 L1918.8 755.0 L1920.5 745.0 L1923.0 756.2 L1925.5 745.0 L1927.0 760.0 L1929.5 773.8 L1932.0 781.2 L1934.5 768.8 L1936.2 773.8 L1937.0 790.0 L1940.0 787.5 L1942.0 793.0 L1943.0 782.5 L1946.2 778.0 L1949.5 776.2 L1951.2 778.8 L1953.8 765.0 L1955.5 760.0 L1957.5 770.0 L1958.8 766.2 L1960.5 777.5 L1964.5 782.5 L1967.0 774.5 L1970.0 778.8 L1973.8 773.0 L1977.5 776.2 L1979.5 787.5 L1981.2 798.8 L1984.5 800.0 L1987.0 798.0 L1989.5 807.0 L1993.0 811.2 L1995.0 800.0 L1998.0 793.8 L2000.5 790.0 L2002.5 781.2 L2005.0 791.2 L2006.2 778.8 L2010.0 777.5 L2013.8 778.0 L2016.2 782.5 L2017.5 770.0 L2019.5 751.2 L2022.5 743.8 L2025.5 743.8 L2028.0 713.8 L2030.5 712.0 L2033.0 707.5 L2034.5 716.2 L2035.5 689.5 L2038.0 697.5 L2039.5 710.0 L2041.2 698.8 L2042.5 730.0 L2046.2 731.2 L2048.0 717.5 L2050.0 687.5 L2052.5 695.0 L2055.0 693.8 L2057.0 711.2 L2059.5 700.0 L2062.5 687.5 L2063.8 690.0 L2065.5 718.8 L2068.8 718.8 L2070.5 730.0 L2073.0 731.2 L2075.5 737.5 L2078.0 742.5 L2080.0 737.0 L2081.2 760.0 L2083.0 785.0 L2084.5 802.0 L2087.0 792.5 L2088.8 780.0 L2092.0 771.2 L2094.5 783.8 L2097.5 776.2 L2100.5 773.8 L2102.5 767.0 L2105.5 770.0 L2108.0 770.0 L2110.5 760.0 L2113.0 752.5 L2116.2 750.0 L2117.5 747.0 L2119.5 757.0 L2122.5 739.5 L2124.5 747.5 L2126.2 745.0 L2128.0 755.0 L2132.0 755.0 L2134.5 758.8 L2137.5 760.0 L2139.5 770.0 L2141.2 761.2 L2143.0 771.2 L2145.5 773.0 L2147.5 765.0 L2150.0 752.5 L2153.0 746.2 L2155.5 751.2 L2158.0 757.5 L2160.5 751.2 L2163.0 753.8 L2164.5 762.5 L2168.0 758.8 L2169.5 746.2 L2171.2 743.0 L2175.0 742.5 L2177.5 743.8 L2179.5 750.0 L2182.0 748.0 L2183.8 738.0 L2186.2 745.0 L2188.8 743.8 L2191.2 742.5 L2192.5 730.0 L2195.5 722.5 L2198.0 721.2 L2201.2 720.0 L2202.5 706.2 L2206.2 707.0 L2208.0 715.0 L2210.5 721.2 L2213.8 713.8 L2217.0 707.5 L2219.5 711.2 L2222.5 710.0 L2223.0 698.5 L2224.8 694.7 L2227.3 690.4 L2229.8 687.9 L2233.0 687.3 L2232.6 671.0 L2234.2 664.8 L2236.1 657.3 L2237.9 656.1 L2239.8 663.5 L2241.1 654.2 L2244.2 652.9 L2245.4 659.8 L2246.7 674.8 L2247.3 684.8 L2248.6 671.0 L2250.4 667.3 L2253.5 666.0 L2254.8 652.3 L2256.0 638.6 L2259.2 638.0 L2260.4 627.4 L2261.7 612.4 L2264.2 612.4 L2266.0 617.4 L2267.9 620.5 L2269.1 603.6 L2271.0 603.6 L2272.3 614.9 L2274.8 607.4 L2276.3 594.9 L2277.9 585.6 L2279.8 588.0 L2281.6 592.4 L2283.5 589.3 L2286.0 589.9 L2286.6 602.4 L2287.5 614.9 L2290.4 616.1 L2291.0 627.4 L2291.6 641.1 L2292.9 643.6 L2294.1 652.9 L2296.0 646.1 L2297.8 637.3 L2299.7 638.6 L2301.0 631.1 L2302.2 622.4 L2304.7 621.7" stroke="#56B7E6" stroke-width="6"/>
</g>
<line x1="909" y1="289" x2="1028" y2="289" stroke="#1F4E8F" stroke-width="14" stroke-linecap="round"/>
<text transform="translate(1040.22 306.70) scale(1.0750 1)" font-size="57.3">China</text>
<line x1="1240" y1="289" x2="1360" y2="289" stroke="#56B7E6" stroke-width="6.1" stroke-linecap="round"/>
<text transform="translate(1371.41 306.70) scale(1.0784 1)" font-size="57.3">China</text>
<text transform="translate(1552.15 306.70) scale(1.1041 1)" font-size="57.3">-</text>
<text transform="translate(1587.76 306.70) scale(1.1523 1)" font-size="57.3">technology</text>
</svg></body></html>
